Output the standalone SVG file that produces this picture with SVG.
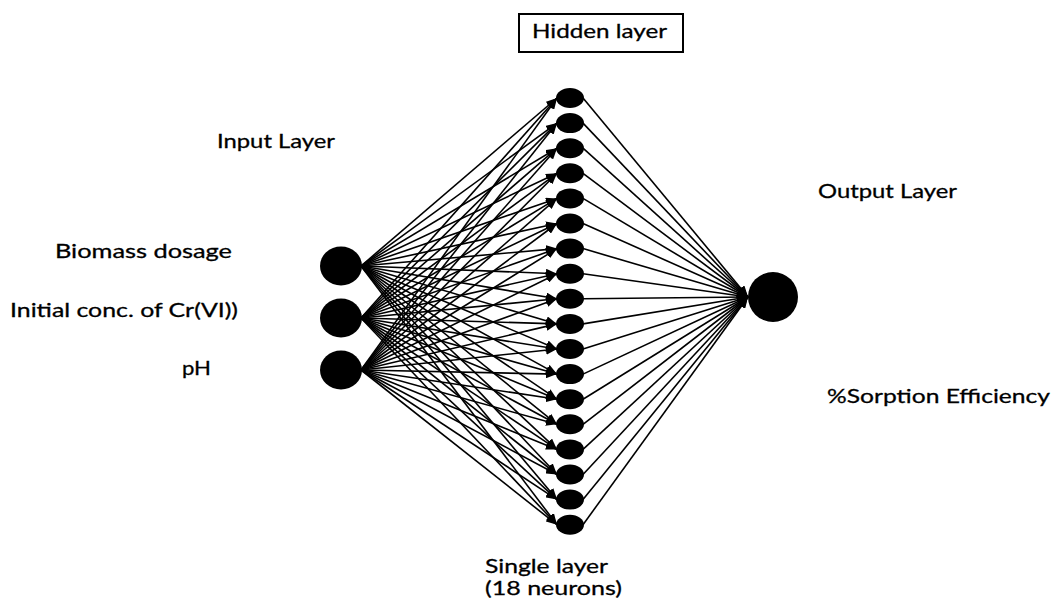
<svg xmlns="http://www.w3.org/2000/svg" width="1053" height="610" viewBox="0 0 1053 610">
<defs>
<style>
.lbl{font-family:Lato,"Liberation Sans",sans-serif;font-size:20px;fill:#000;stroke:#000;stroke-width:0.3}
.node{fill:#000}
.conn line{stroke:#000;stroke-width:1.6;marker-end:url(#ah)}
</style>
<marker id="ah" markerUnits="userSpaceOnUse" markerWidth="12" markerHeight="9" refX="11" refY="4.5" orient="auto">
<path d="M0,0 L11,4.5 L0,9 z" fill="#000"/>
</marker>
</defs>
<rect width="1053" height="610" fill="#fff"/>
<g id="connectors" class="conn">
<line x1="361" y1="266" x2="557" y2="98"/>
<line x1="361" y1="266" x2="557" y2="123.1"/>
<line x1="361" y1="266" x2="557" y2="148.2"/>
<line x1="361" y1="266" x2="557" y2="173.3"/>
<line x1="361" y1="266" x2="557" y2="198.4"/>
<line x1="361" y1="266" x2="557" y2="223.5"/>
<line x1="361" y1="266" x2="557" y2="248.6"/>
<line x1="361" y1="266" x2="557" y2="273.7"/>
<line x1="361" y1="266" x2="557" y2="298.8"/>
<line x1="361" y1="266" x2="557" y2="323.9"/>
<line x1="361" y1="266" x2="557" y2="349"/>
<line x1="361" y1="266" x2="557" y2="374.1"/>
<line x1="361" y1="266" x2="557" y2="399.2"/>
<line x1="361" y1="266" x2="557" y2="424.3"/>
<line x1="361" y1="266" x2="557" y2="449.4"/>
<line x1="361" y1="266" x2="557" y2="474.5"/>
<line x1="361" y1="266" x2="557" y2="499.6"/>
<line x1="361" y1="266" x2="557" y2="524.7"/>
<line x1="361" y1="318" x2="557" y2="98"/>
<line x1="361" y1="318" x2="557" y2="123.1"/>
<line x1="361" y1="318" x2="557" y2="148.2"/>
<line x1="361" y1="318" x2="557" y2="173.3"/>
<line x1="361" y1="318" x2="557" y2="198.4"/>
<line x1="361" y1="318" x2="557" y2="223.5"/>
<line x1="361" y1="318" x2="557" y2="248.6"/>
<line x1="361" y1="318" x2="557" y2="273.7"/>
<line x1="361" y1="318" x2="557" y2="298.8"/>
<line x1="361" y1="318" x2="557" y2="323.9"/>
<line x1="361" y1="318" x2="557" y2="349"/>
<line x1="361" y1="318" x2="557" y2="374.1"/>
<line x1="361" y1="318" x2="557" y2="399.2"/>
<line x1="361" y1="318" x2="557" y2="424.3"/>
<line x1="361" y1="318" x2="557" y2="449.4"/>
<line x1="361" y1="318" x2="557" y2="474.5"/>
<line x1="361" y1="318" x2="557" y2="499.6"/>
<line x1="361" y1="318" x2="557" y2="524.7"/>
<line x1="361" y1="370" x2="557" y2="98"/>
<line x1="361" y1="370" x2="557" y2="123.1"/>
<line x1="361" y1="370" x2="557" y2="148.2"/>
<line x1="361" y1="370" x2="557" y2="173.3"/>
<line x1="361" y1="370" x2="557" y2="198.4"/>
<line x1="361" y1="370" x2="557" y2="223.5"/>
<line x1="361" y1="370" x2="557" y2="248.6"/>
<line x1="361" y1="370" x2="557" y2="273.7"/>
<line x1="361" y1="370" x2="557" y2="298.8"/>
<line x1="361" y1="370" x2="557" y2="323.9"/>
<line x1="361" y1="370" x2="557" y2="349"/>
<line x1="361" y1="370" x2="557" y2="374.1"/>
<line x1="361" y1="370" x2="557" y2="399.2"/>
<line x1="361" y1="370" x2="557" y2="424.3"/>
<line x1="361" y1="370" x2="557" y2="449.4"/>
<line x1="361" y1="370" x2="557" y2="474.5"/>
<line x1="361" y1="370" x2="557" y2="499.6"/>
<line x1="361" y1="370" x2="557" y2="524.7"/>
<line x1="583" y1="98" x2="748" y2="297"/>
<line x1="583" y1="123.1" x2="748" y2="297"/>
<line x1="583" y1="148.2" x2="748" y2="297"/>
<line x1="583" y1="173.3" x2="748" y2="297"/>
<line x1="583" y1="198.4" x2="748" y2="297"/>
<line x1="583" y1="223.5" x2="748" y2="297"/>
<line x1="583" y1="248.6" x2="748" y2="297"/>
<line x1="583" y1="273.7" x2="748" y2="297"/>
<line x1="583" y1="298.8" x2="748" y2="297"/>
<line x1="583" y1="323.9" x2="748" y2="297"/>
<line x1="583" y1="349" x2="748" y2="297"/>
<line x1="583" y1="374.1" x2="748" y2="297"/>
<line x1="583" y1="399.2" x2="748" y2="297"/>
<line x1="583" y1="424.3" x2="748" y2="297"/>
<line x1="583" y1="449.4" x2="748" y2="297"/>
<line x1="583" y1="474.5" x2="748" y2="297"/>
<line x1="583" y1="499.6" x2="748" y2="297"/>
<line x1="583" y1="524.7" x2="748" y2="297"/>
</g>
<g id="input-1"><ellipse class="node" cx="341" cy="266" rx="21" ry="19.5"/></g>
<g id="input-2"><ellipse class="node" cx="341" cy="318" rx="21" ry="19.5"/></g>
<g id="input-3"><ellipse class="node" cx="341" cy="370" rx="21" ry="19.5"/></g>
<g id="hidden-1"><ellipse class="node" cx="570" cy="98" rx="14" ry="10"/></g>
<g id="hidden-2"><ellipse class="node" cx="570" cy="123.1" rx="14" ry="10"/></g>
<g id="hidden-3"><ellipse class="node" cx="570" cy="148.2" rx="14" ry="10"/></g>
<g id="hidden-4"><ellipse class="node" cx="570" cy="173.3" rx="14" ry="10"/></g>
<g id="hidden-5"><ellipse class="node" cx="570" cy="198.4" rx="14" ry="10"/></g>
<g id="hidden-6"><ellipse class="node" cx="570" cy="223.5" rx="14" ry="10"/></g>
<g id="hidden-7"><ellipse class="node" cx="570" cy="248.6" rx="14" ry="10"/></g>
<g id="hidden-8"><ellipse class="node" cx="570" cy="273.7" rx="14" ry="10"/></g>
<g id="hidden-9"><ellipse class="node" cx="570" cy="298.8" rx="14" ry="10"/></g>
<g id="hidden-10"><ellipse class="node" cx="570" cy="323.9" rx="14" ry="10"/></g>
<g id="hidden-11"><ellipse class="node" cx="570" cy="349" rx="14" ry="10"/></g>
<g id="hidden-12"><ellipse class="node" cx="570" cy="374.1" rx="14" ry="10"/></g>
<g id="hidden-13"><ellipse class="node" cx="570" cy="399.2" rx="14" ry="10"/></g>
<g id="hidden-14"><ellipse class="node" cx="570" cy="424.3" rx="14" ry="10"/></g>
<g id="hidden-15"><ellipse class="node" cx="570" cy="449.4" rx="14" ry="10"/></g>
<g id="hidden-16"><ellipse class="node" cx="570" cy="474.5" rx="14" ry="10"/></g>
<g id="hidden-17"><ellipse class="node" cx="570" cy="499.6" rx="14" ry="10"/></g>
<g id="hidden-18"><ellipse class="node" cx="570" cy="524.7" rx="14" ry="10"/></g>
<g id="output"><ellipse class="node" cx="773" cy="297" rx="25" ry="25"/></g>
<g id="hidden-title">
<rect x="519" y="14" width="164" height="38" fill="#fff" stroke="#000" stroke-width="2"/>
<text class="lbl" x="532" y="38" textLength="135" lengthAdjust="spacingAndGlyphs">Hidden layer</text>
</g>
<g id="labels">
<text class="lbl" x="217" y="148" textLength="118" lengthAdjust="spacingAndGlyphs">Input Layer</text>
<text class="lbl" x="55" y="258" textLength="177" lengthAdjust="spacingAndGlyphs">Biomass dosage</text>
<text class="lbl" x="10" y="317" textLength="228" lengthAdjust="spacingAndGlyphs">Initial conc. of Cr(VI))</text>
<text class="lbl" x="182" y="375" textLength="29" lengthAdjust="spacingAndGlyphs">pH</text>
<text class="lbl" x="818" y="198" textLength="139" lengthAdjust="spacingAndGlyphs">Output Layer</text>
<text class="lbl" x="827" y="403" textLength="223" lengthAdjust="spacingAndGlyphs">%Sorption Efficiency</text>
<text class="lbl" x="485" y="573" textLength="123" lengthAdjust="spacingAndGlyphs">Single layer</text>
<text class="lbl" x="485" y="595" textLength="137" lengthAdjust="spacingAndGlyphs">(18 neurons)</text>
</g>
</svg>
